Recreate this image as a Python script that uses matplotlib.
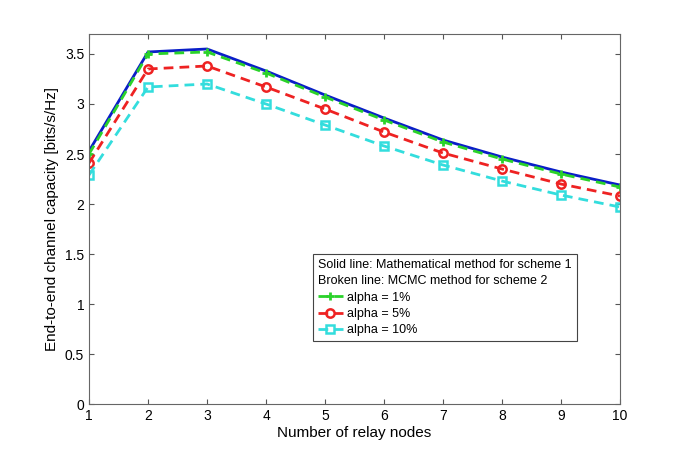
import numpy as np
import matplotlib
matplotlib.use("Agg")
import matplotlib.pyplot as plt

plt.rcParams['font.family'] = ['Liberation Sans', 'DejaVu Sans']

nodes = np.arange(1, 11)
math_s1 = [2.53, 3.52, 3.55, 3.33, 3.09, 2.86, 2.64, 2.47, 2.32, 2.19]
alpha1 = [2.50, 3.50, 3.52, 3.31, 3.07, 2.84, 2.62, 2.45, 2.30, 2.17]
alpha5 = [2.41, 3.35, 3.38, 3.17, 2.95, 2.72, 2.51, 2.35, 2.20, 2.08]
alpha10 = [2.29, 3.17, 3.20, 3.00, 2.79, 2.58, 2.39, 2.23, 2.09, 1.97]

fig = plt.figure(figsize=(6.85, 4.53), dpi=100)
ax = fig.add_axes([0.130, 0.108, 0.775, 0.817])

dash = (3.5, 2.2)
ax.plot(nodes, math_s1, '-', color='#0a1ec8', lw=2)
h1, = ax.plot(nodes, alpha1, '--', dashes=dash, color='#2ad22a', lw=2, marker='+',
              ms=6, mew=2, label='alpha = 1%')
h5, = ax.plot(nodes, alpha5, '--', dashes=dash, color='#ee2222', lw=2, marker='o',
              ms=6, mew=1.8, mfc='none', label='alpha = 5%')
h10, = ax.plot(nodes, alpha10, '--', dashes=dash, color='#33dddd', lw=2, marker='s',
               ms=5.5, mew=1.8, mfc='none', label='alpha = 10%')

ax.set_xlim(1, 10)
ax.set_ylim(0, 3.7)
ax.set_xticks(range(1, 11))
ax.set_yticks(np.arange(0, 3.51, 0.5))
ax.set_yticklabels(['0', '0.5', '1', '1.5', '2', '2.5', '3', '3.5'])
ax.tick_params(direction='in', top=True, right=True, labelsize=10, color='#555555')
for s in ax.spines.values():
    s.set_color('#666666')

ax.set_xlabel('Number of relay nodes', fontsize=11, labelpad=2)
ax.set_ylabel('End-to-end channel capacity [bits/s/Hz]', fontsize=11)

leg = ax.legend(handles=[h1, h5, h10],
                title='Solid line: Mathematical method for scheme 1\nBroken line: MCMC method for scheme 2',
                alignment='left', loc='upper left', bbox_to_anchor=(0.41, 0.422),
                fontsize=9, title_fontsize=9, fancybox=False, framealpha=1,
                edgecolor='#444444', handlelength=2.0, labelspacing=0.35,
                borderpad=0.4, handletextpad=0.3)
leg.get_frame().set_linewidth(0.8)
leg.get_title().set_linespacing(1.45)

fig.savefig('out.png', dpi=100)
